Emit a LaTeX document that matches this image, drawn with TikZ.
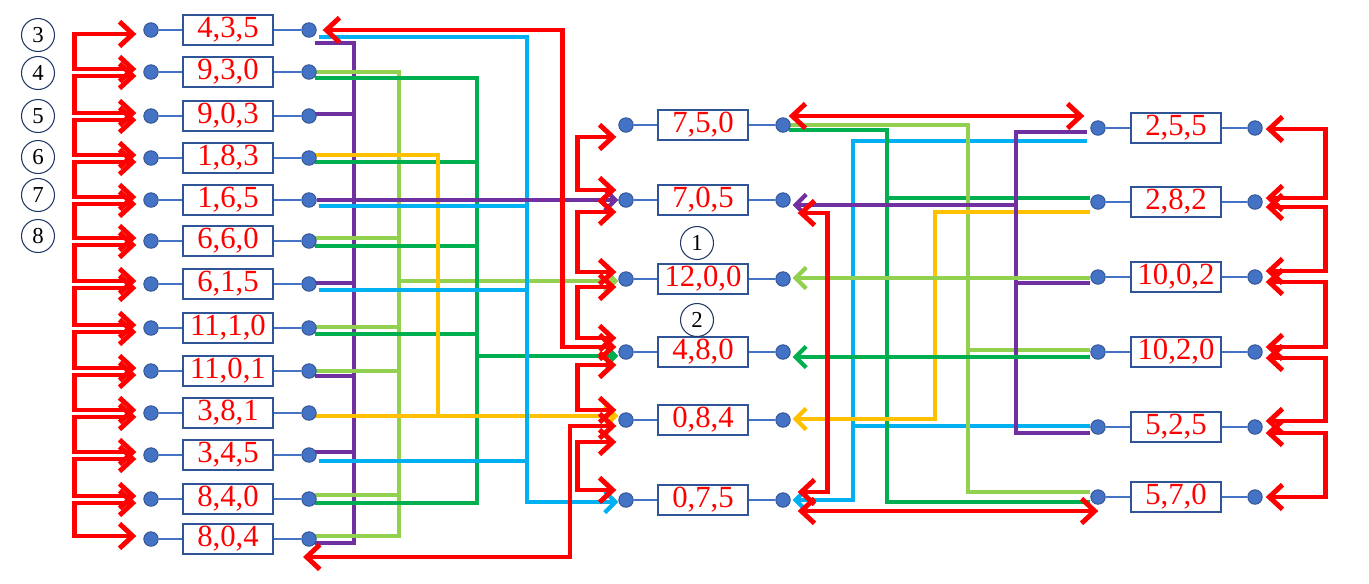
\documentclass[tikz,border=0pt]{standalone}
\usepackage{fontspec}
\setmainfont{Liberation Serif}
\usetikzlibrary{arrows.meta,calc,backgrounds}
\definecolor{dotblue}{RGB}{68,114,196}
\definecolor{dotedge}{RGB}{47,82,143}
\definecolor{boxedge}{RGB}{47,85,151}
\definecolor{ringedge}{RGB}{31,56,100}
\definecolor{busviolet}{RGB}{112,48,160}
\definecolor{buslime}{RGB}{146,208,80}
\definecolor{busgreen}{RGB}{0,176,80}
\definecolor{busamber}{RGB}{255,192,0}
\definecolor{buscyan}{RGB}{0,176,240}

\begin{document}
\begin{tikzpicture}[x=0.02cm, y=-0.02cm,
  dot/.style={circle, fill=dotblue, draw=dotedge, line width=0.5pt, minimum size=0.29cm, inner sep=0pt},
  triple/.style={draw=boxedge, line width=0.8pt, fill=white, minimum width=1.8cm, minimum height=0.6cm, inner sep=0pt, text=red, font=\fontsize{17.5}{19}\selectfont},
  ring/.style={circle, draw=ringedge, line width=0.6pt, minimum size=0.66cm, inner sep=0pt, font=\fontsize{13}{15}\selectfont},
  link/.style={dotblue, line width=0.6pt},
  bus/.style={line width=2.4pt},
  into/.style={-{Straight Barb[length=6pt,width=12pt]}},
  redpath/.style={red, line width=2.8pt, {Straight Barb[length=7.5pt,width=14pt]}-{Straight Barb[length=7.5pt,width=14pt]}}]

\useasboundingbox (0,0) rectangle (1369,583);

% Left column
\foreach \i/\y/\t in {1/30/{4,3,5}, 2/72/{9,3,0}, 3/116/{9,0,3}, 4/158/{1,8,3}, 5/200/{1,6,5},
    6/241/{6,6,0}, 7/284/{6,1,5}, 8/328/{11,1,0}, 9/371/{11,0,1}, 10/413/{3,8,1},
    11/455/{3,4,5}, 12/499/{8,4,0}, 13/539/{8,0,4}} {
  \node[dot] (aL\i) at (151,\y) {};
  \node[triple] (a\i) at (228,\y) {\t};
  \node[dot] (aR\i) at (309,\y) {};
  \draw[link] (aL\i) -- (a\i) (a\i) -- (aR\i);
}
\foreach \n/\y in {3/35, 4/73, 5/116, 6/157, 7/195, 8/236}
  \node[ring] (r\n) at (38,\y) {\n};

% Middle column
\foreach \i/\y/\t in {1/125/{7,5,0}, 2/200/{7,0,5}, 3/279/{12,0,0}, 4/352/{4,8,0}, 5/420/{0,8,4}, 6/500/{0,7,5}} {
  \node[dot] (bL\i) at (626,\y) {};
  \node[triple] (b\i) at (703,\y) {\t};
  \node[dot] (bR\i) at (783,\y) {};
  \draw[link] (bL\i) -- (b\i) (b\i) -- (bR\i);
}
\node[ring] (r1) at (697,243) {1};
\node[ring] (r2) at (697,320) {2};

% Right column
\foreach \i/\y/\t in {1/128/{2,5,5}, 2/202/{2,8,2}, 3/277/{10,0,2}, 4/352/{10,2,0}, 5/427/{5,2,5}, 6/497/{5,7,0}} {
  \node[dot] (cL\i) at (1098,\y) {};
  \node[triple] (c\i) at (1176,\y) {\t};
  \node[dot] (cR\i) at (1255,\y) {};
  \draw[link] (cL\i) -- (c\i) (c\i) -- (cR\i);
}

% Bus positions
\coordinate (vio1) at (354,0);
\coordinate (lim1) at (399,0);
\coordinate (amb1) at (438,0);
\coordinate (grn1) at (477,0);
\coordinate (cya1) at (527,0);
\coordinate (cya2) at (853,0);
\coordinate (grn2) at (887,0);
\coordinate (amb2) at (935,0);
\coordinate (lim2) at (968,0);
\coordinate (vio2) at (1016,0);

\begin{scope}[on background layer]
% Left buses
\draw[bus, busviolet] ($(aR1.east)+(-2,13)$) -| ($(vio1 |- aR13)+(0,4)$) -- ($(aR13.east)+(-2,4)$);
\foreach \i/\d in {3/-2, 7/-1, 9/5, 11/-3}
  \draw[bus, busviolet] ($(aR\i.east)+(-2,\d)$) -- ($(vio1 |- aR\i)+(0,\d)$);

\draw[bus, buslime] ($(aR2.east)+(-2,0)$) -| ($(lim1 |- aR13)+(0,-3)$) -- ($(aR13.east)+(-2,-3)$);
\foreach \i/\d in {6/-3, 8/-1, 9/0, 12/-4}
  \draw[bus, buslime] ($(aR\i.east)+(-2,\d)$) -- ($(lim1 |- aR\i)+(0,\d)$);
\draw[bus, buslime, into] ($(lim1 |- bL3)+(0,2)$) -- ($(bL3.west)+(0,2)$);

\draw[bus, busgreen] ($(aR2.east)+(-2,6)$) -| ($(grn1 |- aR12)+(0,4)$) -- ($(aR12.east)+(-2,4)$);
\foreach \i/\d in {4/4, 6/5, 8/6}
  \draw[bus, busgreen] ($(aR\i.east)+(-2,\d)$) -- ($(grn1 |- aR\i)+(0,\d)$);
\draw[bus, busgreen, into] ($(grn1 |- bL4)+(0,4)$) -- ($(bL4.west)+(0,4)$);

\draw[bus, busamber] ($(aR4.east)+(-2,-3)$) -| ($(amb1 |- aR10)+(0,3)$);
\draw[bus, busamber, into] ($(aR10.east)+(-2,3)$) -- ($(bL5.west)+(0,-4)$);

\draw[bus, buscyan, into] ($(aR1.east)+(2,7)$) -| ($(cya1 |- bL6)+(0,2)$) -- ($(bL6.west)+(0,2)$);
\foreach \i/\d in {5/6, 7/6, 11/6}
  \draw[bus, buscyan] ($(aR\i.east)+(2,\d)$) -- ($(cya1 |- aR\i)+(0,\d)$);

\draw[bus, busviolet, into] (aR5.east) -- (bL2.west);

% Right buses
\draw[bus, buscyan, into] ($(cL1.west)+(-3,13)$) -| (cya2 |- bR6) -- ($(bR6.east)+(2,0)$);
\draw[bus, buscyan] ($(cL5.west)+(0,-1)$) -- ($(cya2 |- cL5)+(0,-1)$);

\draw[bus, busgreen] ($(bR1.east)+(-2,5)$) -| ($(grn2 |- cL6)+(0,5)$) -- ($(cL6.west)+(0,5)$);
\draw[bus, busgreen] ($(grn2 |- cL2)+(0,-4)$) -- ($(cL2.west)+(0,-4)$);

\draw[bus, buslime] ($(bR1.east)+(-2,0)$) -| ($(lim2 |- cL6)+(0,-5)$) -- ($(cL6.west)+(0,-5)$);
\draw[bus, buslime] ($(lim2 |- cL4)+(0,-2)$) -- ($(cL4.west)+(0,-2)$);

\draw[bus, busamber, into] ($(cL2.west)+(0,10)$) -| ($(amb2 |- bR5)+(0,-1)$) -- ($(bR5.east)+(2,-1)$);

\draw[bus, busviolet] ($(cL1.west)+(-3,4)$) -| ($(vio2 |- cL5)+(0,6)$) -- ($(cL5.west)+(0,6)$);
\draw[bus, busviolet] ($(vio2 |- cL3)+(0,6)$) -- ($(cL3.west)+(0,6)$);
\draw[bus, busviolet, into] ($(vio2 |- bR2)+(0,5)$) -- ($(bR2.east)+(2,5)$);

\draw[bus, busgreen, into] ($(cL4.west)+(0,5)$) -- ($(bR4.east)+(2,5)$);
\draw[bus, buslime, into] ($(cL3.west)+(0,1)$) -- ($(bR3.east)+(2,-1)$);

% Red links
\foreach \i [count=\j from 2] in {1,...,12}
  \draw[redpath] ($(aL\i.west)+(-7,4)$) -- ++(-62,0) |- ($(aL\j.west)+(-7,-3)$);
\foreach \i/\j/\u/\d in {1/2/12/-10, 2/3/12/-7, 3/4/8/-14, 4/5/13/-10, 5/6/22/-10}
  \draw[redpath] ($(bL\i.west)+(-2,\u)$) -- ++(-39,0) |- ($(bL\j.west)+(-2,\d)$);
\foreach \i/\j/\u/\d in {1/2/1/-4, 2/3/5/-6, 3/4/5/-5, 4/5/6/-6, 5/6/6/0}
  \draw[redpath] ($(cR\i.east)+(3,\u)$) -- ++(60,0) |- ($(cR\j.east)+(3,\d)$);

\draw[redpath] ($(aR1.east)+(6,0)$) -- ++(240,0) |- ($(bL4.west)+(-2,-5)$);
\draw[redpath] ($(aR13)+(-6,18)$) -- ++(267,0) |- ($(bL5.west)+(-2,6)$);
\draw[redpath] ($(bR1.east)+(-2,-9)$) -- ($(cL1.west)+(-6,-12)$);
\draw[redpath] ($(bR6.east)+(7,11)$) -- ($(cL6.west)+(8,14)$);
\draw[redpath] ($(bR2.east)+(7,13)$) -- ++(30,0) |- ($(bR6.east)+(7,-8)$);
\end{scope}
\end{tikzpicture}
\end{document}
